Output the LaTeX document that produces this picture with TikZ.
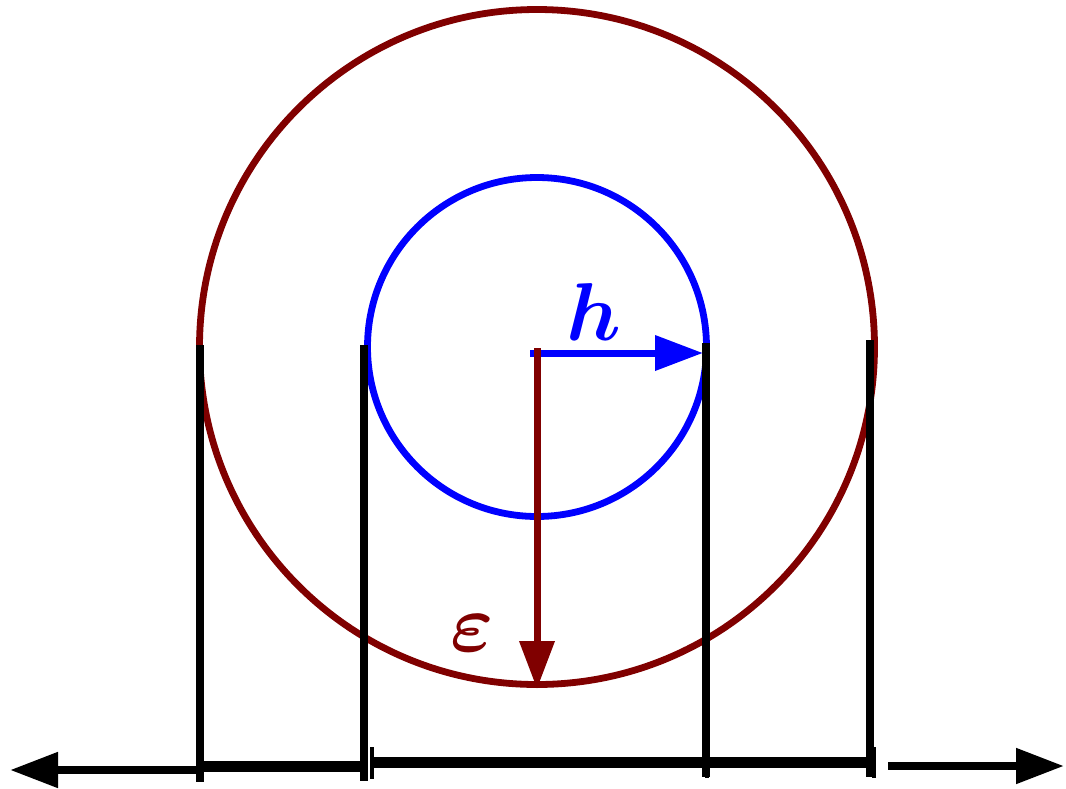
\documentclass[tikz,border=0pt]{standalone}
\usepackage{amsmath,amssymb,bm}
\usepackage{xcolor}
\usetikzlibrary{arrows.meta,positioning,calc}
\definecolor{epsRed}{HTML}{800000}
\definecolor{hBlue}{HTML}{0000FF}

\begin{document}
\begin{tikzpicture}[x=0.5pt,y=-0.5pt,
  ring/.style={line width=3.4pt},
  wall/.style={black,line width=3.6pt},
  base/.style={black,line width=5.5pt},
  tick/.style={black,line width=1.6pt},
  bigtip/.style={-{Triangle[length=24pt,width=17pt]}},
  lab/.style={inner sep=0pt,font=\Huge,scale=1.65}]
\useasboundingbox (0,0) rectangle (1066,788);
% circles : epsilon and h
\coordinate (c) at (537,347);
\draw[ring,epsRed] (c) circle[radius=337.5];
\draw[ring,hBlue] (c) circle[radius=169.5];
% walls down to the line
\coordinate (a1) at (200,345); \coordinate (a2) at (200,782);
\coordinate (b1) at (364,345); \coordinate (b2) at (364,781);
\coordinate (d1) at (706,343); \coordinate (d2) at (706,777);
\coordinate (e1) at (870,340); \coordinate (e2) at (870,777);
\draw[wall] (a1) -- (a2);
\draw[wall] (b1) -- (b2);
\draw[wall] (d1) -- (d2);
\draw[wall] (e1) -- (e2);
% the line with its pieces
\coordinate (lt) at (10,770);
\coordinate (rt) at (1064,766);
\draw[black,line width=4pt,bigtip] (200,770) -- (lt);
\draw[base] (200,766) -- (364,766);
\draw[base] (372,762) -- (706,762);
\draw[base] (706,762) -- (870,762);
\draw[black,line width=4pt,bigtip] (888,766) -- (rt);
\draw[tick] (372,747) -- (372,779);
\draw[tick] (707,747) -- (707,778);
\draw[tick] (874,747) -- (874,778);
% radii
\coordinate (hend) at (703,353);
\coordinate (eend) at (537,689);
\draw[hBlue,line width=3.5pt,bigtip] (530,353) -- (hend);
\draw[epsRed,line width=3.5pt,bigtip] (537,348) -- (eend);
\node[lab,text=hBlue] (h) at (594,312) {$\bm{h}$};
\node[lab,text=epsRed] (eps) at (472,633) {$\bm{\varepsilon}$};
\end{tikzpicture}
\end{document}
